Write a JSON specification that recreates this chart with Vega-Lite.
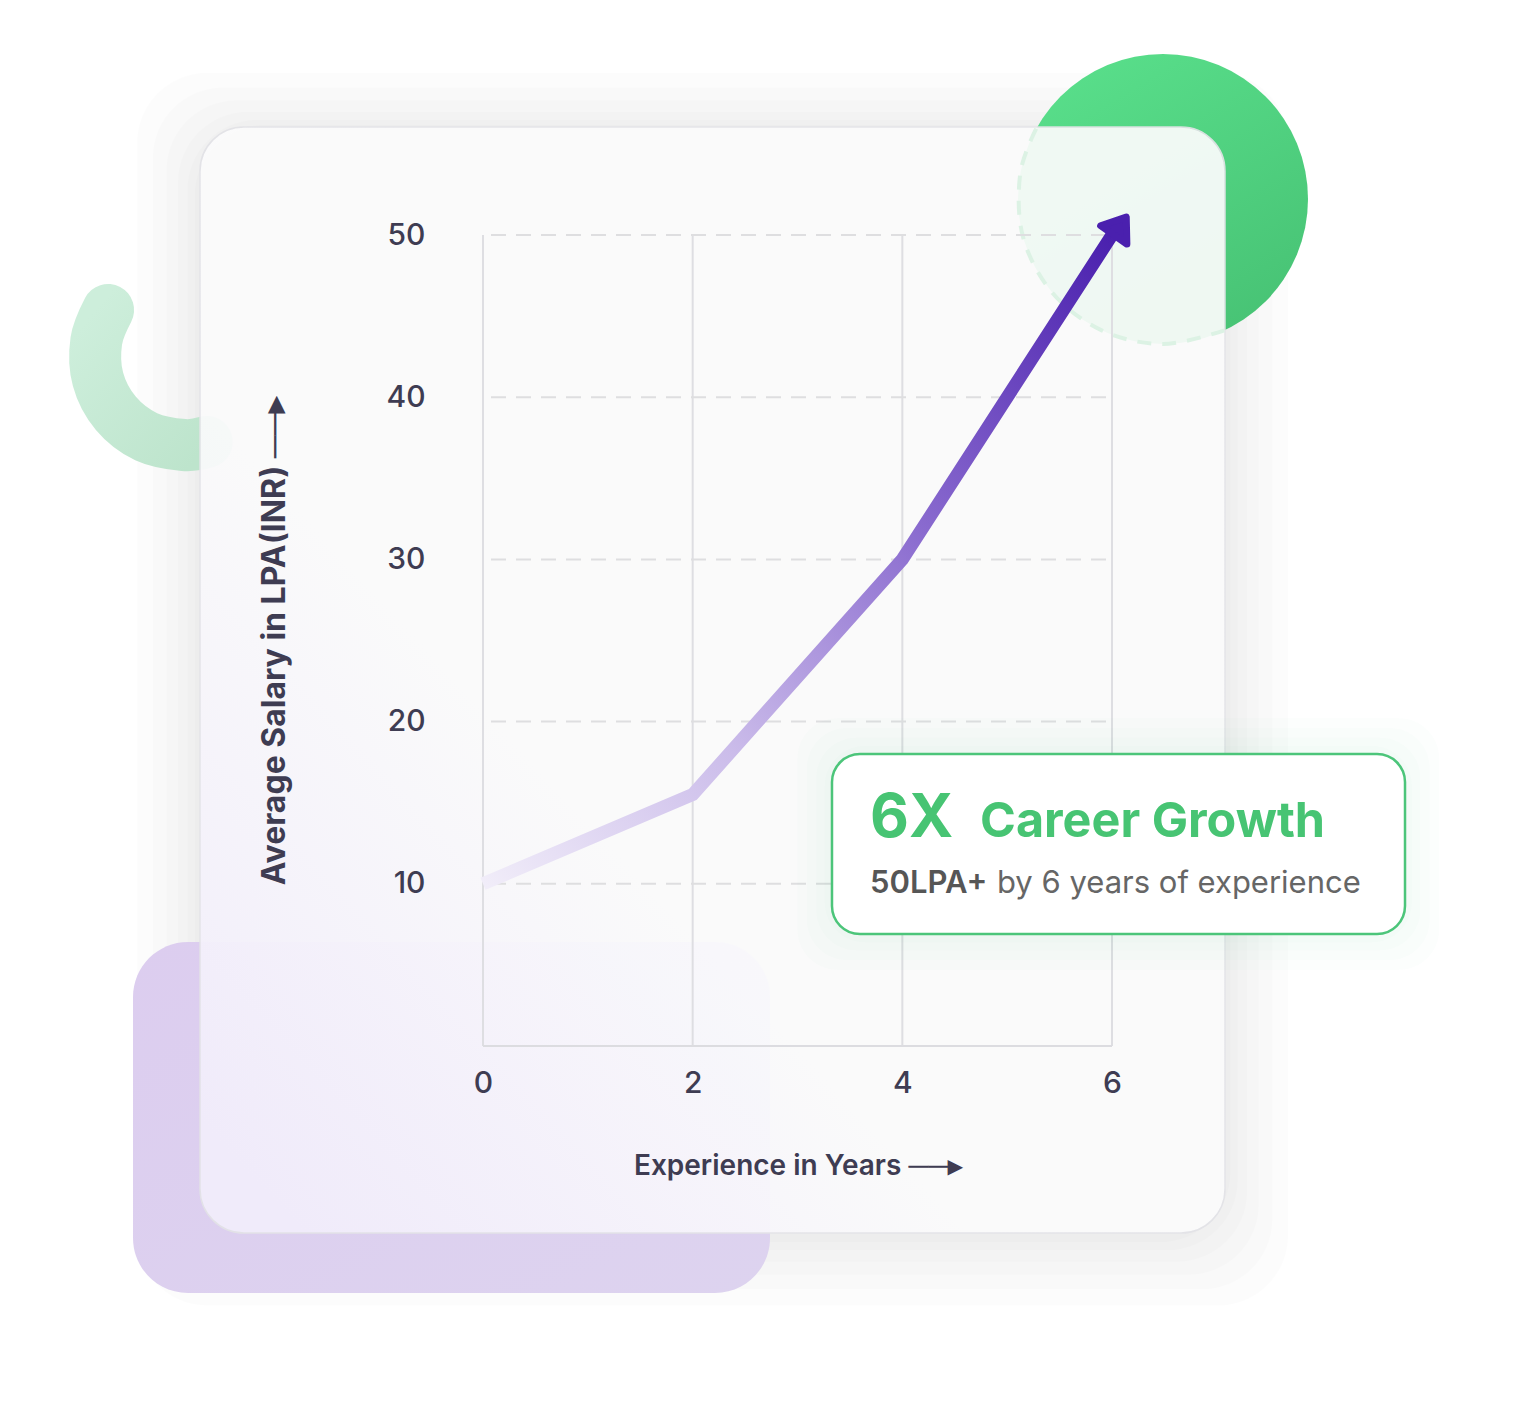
{
  "$schema": "https://vega.github.io/schema/vega-lite/v6.json",
  "width": 629,
  "height": 811,
  "autosize": {"type": "none"},
  "padding": {"left": 483, "top": 235, "right": 420, "bottom": 380},
  "background": "#ffffff",
  "config": {"view": {"stroke": null}},
  "datasets": {
    "series": [
      {"x": 0, "y": 10},
      {"x": 2, "y": 15.5},
      {"x": 4, "y": 30},
      {"x": 6, "y": 50}
    ],
    "shadow": [
      {"x": -3.30, "x2": 7.68, "y": 60.0, "y2": -16.0},
      {"x": -3.15, "x2": 7.53, "y": 59.1, "y2": -15.0},
      {"x": -3.02, "x2": 7.40, "y": 58.3, "y2": -14.1},
      {"x": -2.91, "x2": 7.29, "y": 57.6, "y2": -13.3},
      {"x": -2.82, "x2": 7.20, "y": 57.1, "y2": -12.6},
      {"x": -2.75, "x2": 7.13, "y": 56.8, "y2": -12.1}
    ],
    "greenArc": [
      {"i": 0, "x": -3.5762, "y": 45.376},
      {"i": 1, "x": -3.6888, "y": 43.471},
      {"i": 2, "x": -3.6725, "y": 41.104},
      {"i": 3, "x": -3.5027, "y": 39.008},
      {"i": 4, "x": -3.2127, "y": 37.565},
      {"i": 5, "x": -2.8550, "y": 37.053},
      {"i": 6, "x": -2.6360, "y": 37.240}
    ],
    "purpleBox": [{"x": -3.3387, "x2": 2.7377, "y": 6.412, "y2": -15.228}],
    "greenCircle": [{"x": 6.4866, "y": 52.22}],
    "card": [{"x": -2.6995, "x2": 7.0779, "y": 56.658, "y2": -11.529}],
    "dashRing": [
      {"i": 0, "x": 5.2770, "y": 56.554},
      {"i": 1, "x": 5.1244, "y": 53.773},
      {"i": 2, "x": 5.1501, "y": 49.907},
      {"i": 3, "x": 5.4267, "y": 46.473},
      {"i": 4, "x": 5.9018, "y": 44.118},
      {"i": 5, "x": 6.4865, "y": 43.280},
      {"i": 6, "x": 7.0713, "y": 44.118}
    ],
    "vgrid": [
      {"x": 0, "y": 0, "y2": 50},
      {"x": 2, "y": 0, "y2": 50},
      {"x": 4, "y": 0, "y2": 50},
      {"x": 6, "y": 0, "y2": 50}
    ],
    "hgrid": [
      {"x": 0, "x2": 6, "y": 10},
      {"x": 0, "x2": 6, "y": 20},
      {"x": 0, "x2": 6, "y": 30},
      {"x": 0, "x2": 6, "y": 40},
      {"x": 0, "x2": 6, "y": 50}
    ],
    "base": [{"x": 0, "x2": 6, "y": 0}],
    "glow": [
      {"x": 3.00, "x2": 9.12, "y": 20.2, "y2": 4.7},
      {"x": 3.09, "x2": 9.03, "y": 19.6, "y2": 5.3},
      {"x": 3.18, "x2": 8.94, "y": 19.0, "y2": 5.9},
      {"x": 3.26, "x2": 8.86, "y": 18.5, "y2": 6.4}
    ],
    "callout": [{"x": 3.329, "x2": 8.795, "y": 18.0, "y2": 6.905}],
    "t6x": [{"x": 3.6916, "y": 12.885, "t": "6X"}],
    "tCareer": [{"x": 4.741, "y": 12.885, "t": "Career Growth"}],
    "tLpa": [{"x": 3.6916, "y": 9.433, "t": "50LPA+"}],
    "tBy": [{"x": 4.903, "y": 9.433, "t": "by 6 years of experience"}]
  },
  "encoding": {
    "x": {
      "field": "x", "type": "quantitative",
      "scale": {"domain": [0, 6], "nice": false, "zero": false},
      "axis": {
        "values": [0, 2, 4, 6], "title": "Experience in Years  ──▸",
        "grid": false, "domain": false, "ticks": false, "labelFlush": false,
        "labelPadding": 22, "labelFont": "Inter", "labelFontSize": 30, "labelFontWeight": 500, "labelColor": "#3e3c52",
        "titleFont": "Inter", "titleFontSize": 28, "titleFontWeight": 600, "titleColor": "#3e3c52",
        "titlePadding": 54, "zindex": 1
      }
    },
    "y": {
      "field": "y", "type": "quantitative",
      "scale": {"domain": [0, 50], "nice": false, "zero": false},
      "axis": {
        "values": [10, 20, 30, 40, 50], "title": "Average Salary in LPA(INR)  ──▸",
        "grid": false, "domain": false, "ticks": false,
        "labelPadding": 58, "labelFont": "Inter", "labelFontSize": 30, "labelFontWeight": 500, "labelColor": "#3e3c52",
        "titleFont": "Inter", "titleFontSize": 32, "titleFontWeight": 700, "titleColor": "#3e3c52",
        "titlePadding": 94, "zindex": 1
      }
    }
  },
  "layer": [
    {
      "data": {"name": "shadow"},
      "mark": {"type": "rect", "fill": "#000000", "fillOpacity": 0.011, "cornerRadius": 70},
      "encoding": {"x2": {"field": "x2"}, "y2": {"field": "y2"}}
    },
    {
      "data": {"name": "greenArc"},
      "mark": {
        "type": "line", "interpolate": "cardinal", "strokeWidth": 52, "strokeCap": "round",
        "stroke": {"gradient": "linear", "x1": 0, "y1": 0, "x2": 1, "y2": 1,
          "stops": [{"offset": 0, "color": "#cdeedb"}, {"offset": 1, "color": "#bde4cc"}]}
      },
      "encoding": {"order": {"field": "i", "type": "quantitative"}}
    },
    {
      "data": {"name": "purpleBox"},
      "mark": {
        "type": "rect", "cornerRadius": 55,
        "fill": {"gradient": "linear", "x1": 0, "y1": 0, "x2": 1, "y2": 1,
          "stops": [{"offset": 0, "color": "#dccdef"}, {"offset": 1, "color": "#ddd3ef"}]}
      },
      "encoding": {"x2": {"field": "x2"}, "y2": {"field": "y2"}}
    },
    {
      "data": {"name": "greenCircle"},
      "mark": {
        "type": "point", "shape": "circle", "size": 84100, "filled": true, "opacity": 1, "strokeWidth": 0,
        "fill": {"gradient": "linear", "x1": 0.2, "y1": 0, "x2": 0.8, "y2": 1,
          "stops": [{"offset": 0, "color": "#59df8b"}, {"offset": 1, "color": "#47c274"}]}
      }
    },
    {
      "data": {"name": "card"},
      "mark": {
        "type": "rect", "opacity": 0.93, "cornerRadius": 44, "stroke": "#e3e3e7", "strokeWidth": 1.5,
        "fill": {"gradient": "linear", "x1": 0.75, "y1": 0.35, "x2": 0.1, "y2": 1,
          "stops": [{"offset": 0, "color": "#fcfcfc"}, {"offset": 0.5, "color": "#fbfbfc"}, {"offset": 1, "color": "#f2eefb"}]}
      },
      "encoding": {"x2": {"field": "x2"}, "y2": {"field": "y2"}}
    },
    {
      "data": {"name": "dashRing"},
      "mark": {"type": "line", "interpolate": "cardinal", "stroke": "#dcf2e4", "strokeWidth": 4, "strokeDash": [14, 11]},
      "encoding": {"order": {"field": "i", "type": "quantitative"}}
    },
    {
      "data": {"name": "vgrid"},
      "mark": {"type": "rule", "stroke": "#dedee2", "strokeWidth": 2},
      "encoding": {"y2": {"field": "y2"}}
    },
    {
      "data": {"name": "hgrid"},
      "mark": {"type": "rule", "stroke": "#dedee0", "strokeWidth": 2, "strokeDash": [15, 10], "strokeDashOffset": -8},
      "encoding": {"x2": {"field": "x2"}}
    },
    {
      "data": {"name": "base"},
      "mark": {"type": "rule", "stroke": "#dcdce0", "strokeWidth": 2},
      "encoding": {"x2": {"field": "x2"}}
    },
    {
      "data": {"name": "series"},
      "mark": {
        "type": "line", "strokeWidth": 13, "strokeJoin": "round", "strokeCap": "butt",
        "stroke": {"gradient": "linear", "x1": 0, "y1": 1, "x2": 1, "y2": 0,
          "stops": [
            {"offset": 0, "color": "#f1edf9"},
            {"offset": 0.3, "color": "#cbbcea"},
            {"offset": 0.62, "color": "#8a6bcf"},
            {"offset": 1, "color": "#4a20ae"}
          ]}
      }
    },
    {
      "data": {"name": "series"},
      "transform": [{"filter": "datum.x == 6"}],
      "mark": {
        "type": "point", "shape": "M0,-0.68L1,0.68L-1,0.68Z", "size": 1024, "angle": 35,
        "filled": true, "opacity": 1, "fill": "#4a20ae", "stroke": "#4a20ae", "strokeWidth": 7, "strokeJoin": "round",
        "xOffset": 8, "yOffset": -9
      }
    },
    {
      "data": {"name": "glow"},
      "mark": {"type": "rect", "fill": "#4cc47a", "fillOpacity": 0.015, "cornerRadius": 40},
      "encoding": {"x2": {"field": "x2"}, "y2": {"field": "y2"}}
    },
    {
      "data": {"name": "callout"},
      "mark": {"type": "rect", "fill": "#ffffff", "stroke": "#4cc57a", "strokeWidth": 2.5, "cornerRadius": 28},
      "encoding": {"x2": {"field": "x2"}, "y2": {"field": "y2"}}
    },
    {
      "data": {"name": "t6x"},
      "mark": {"type": "text", "font": "Inter", "fontSize": 60, "fontWeight": 700, "fill": "#47c473", "align": "left", "baseline": "alphabetic"},
      "encoding": {"text": {"field": "t"}}
    },
    {
      "data": {"name": "tCareer"},
      "mark": {"type": "text", "font": "Inter", "fontSize": 48.5, "fontWeight": 700, "fill": "#47c473", "align": "left", "baseline": "alphabetic"},
      "encoding": {"text": {"field": "t"}}
    },
    {
      "data": {"name": "tLpa"},
      "mark": {"type": "text", "font": "Inter", "fontSize": 31, "fontWeight": 600, "fill": "#565656", "align": "left", "baseline": "alphabetic"},
      "encoding": {"text": {"field": "t"}}
    },
    {
      "data": {"name": "tBy"},
      "mark": {"type": "text", "font": "Inter", "fontSize": 31, "fontWeight": 400, "fill": "#666666", "align": "left", "baseline": "alphabetic"},
      "encoding": {"text": {"field": "t"}}
    }
  ]
}
